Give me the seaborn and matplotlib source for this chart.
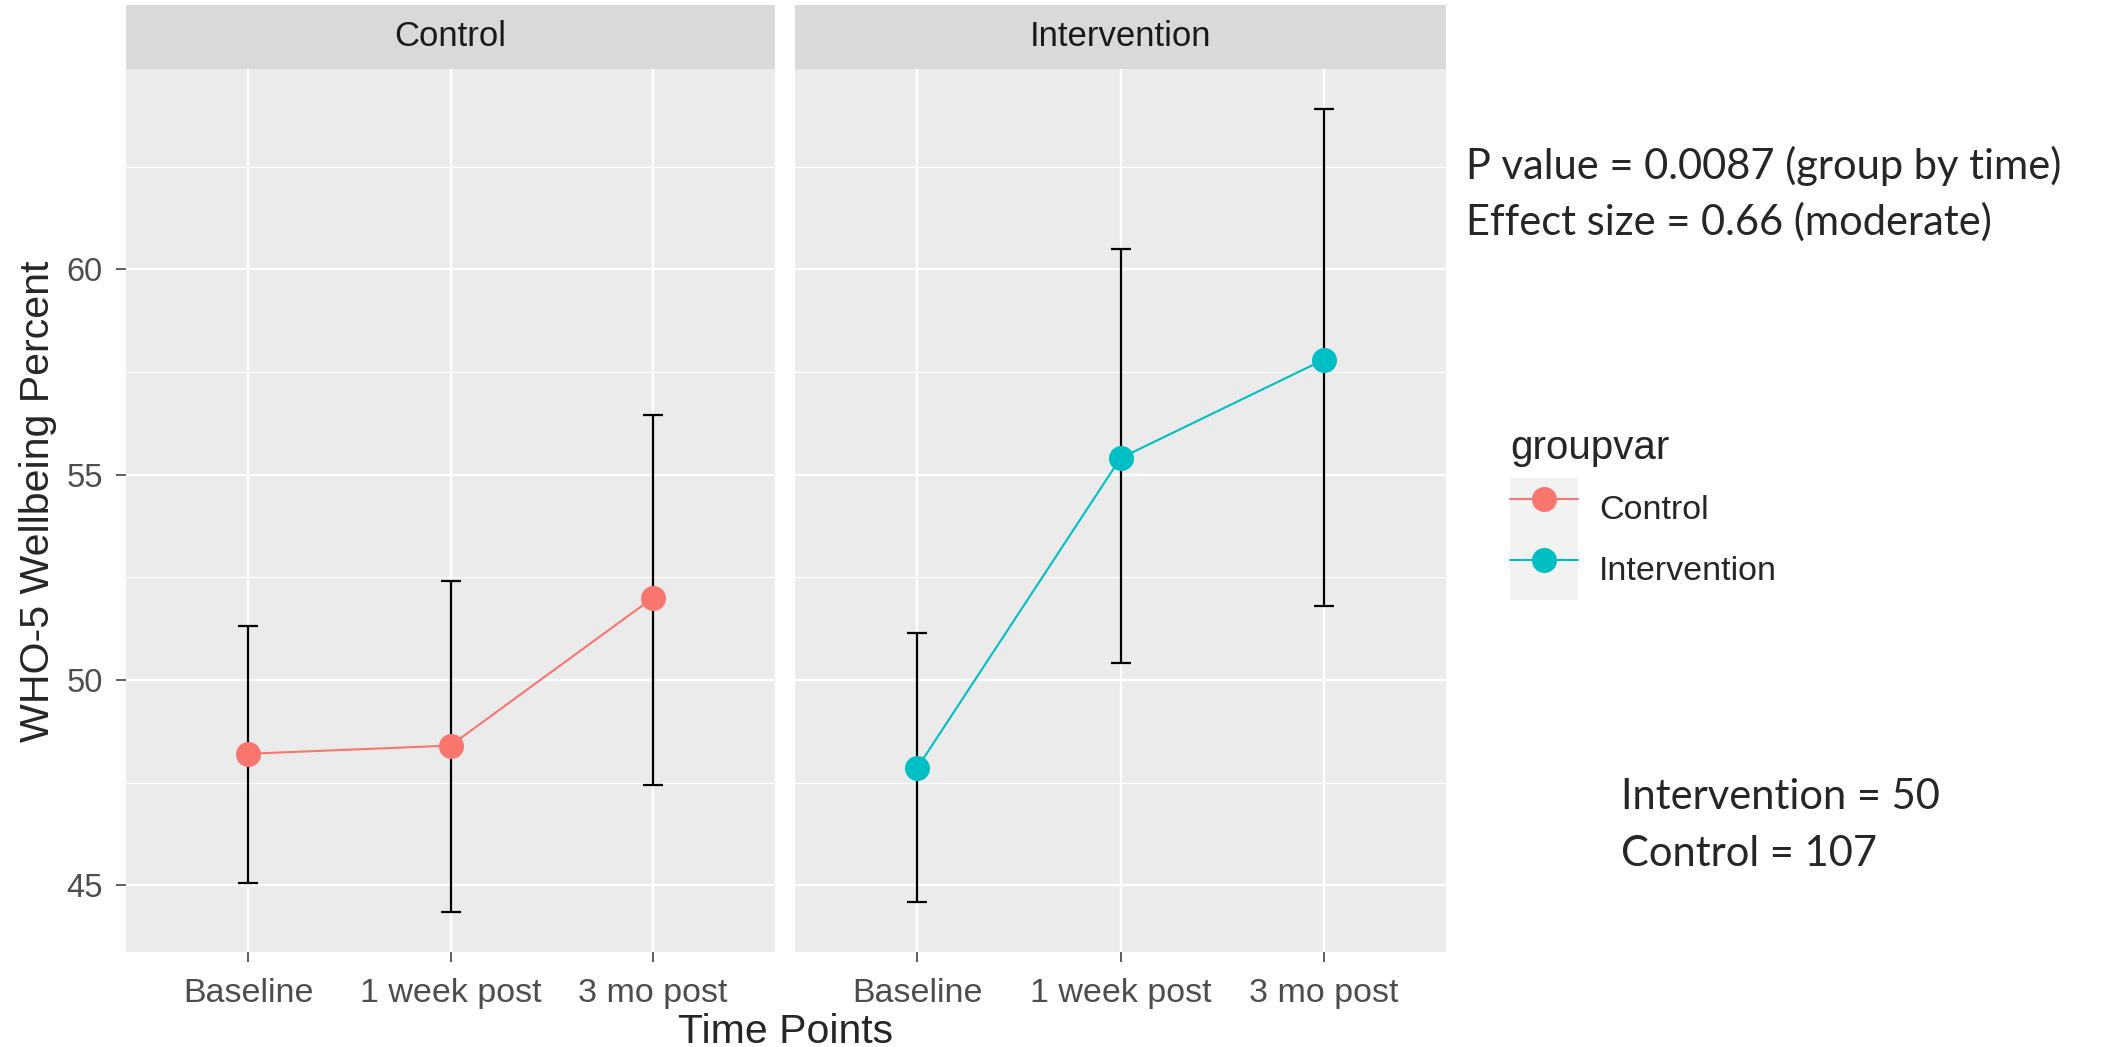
import numpy as np
import pandas as pd
import seaborn as sns
from matplotlib import pyplot as plt
from matplotlib.lines import Line2D
from matplotlib.patches import Rectangle
from matplotlib.legend_handler import HandlerTuple

# Values
time_points = ["Baseline", "1 week post", "3 mo post"]
groups = ["Control", "Intervention"]
control_mean = [48.2, 48.4, 52.0]
control_lo = [45.05, 44.35, 47.45]
control_hi = [51.3, 52.4, 56.45]
interv_mean = [47.85, 55.4, 57.8]
interv_lo = [44.6, 50.4, 51.8]
interv_hi = [51.15, 60.5, 63.9]
colors = {"Control": "#F8766D", "Intervention": "#00BFC4"}
notes_top = ["P value = 0.0087 (group by time)", "Effect size = 0.66 (moderate)"]
notes_bottom = ["Intervention = 50", "Control = 107"]

W, H, DPI = 2123, 1047, 100

df = pd.DataFrame({
    "groupvar": np.repeat(groups, len(time_points)),
    "time": time_points * 2,
    "mean": control_mean + interv_mean,
    "lo": control_lo + interv_lo,
    "hi": control_hi + interv_hi,
})

sns.set_theme(style="darkgrid", rc={"axes.facecolor": "#EBEBEB", "grid.color": "white"})
plt.rcParams["font.family"] = ["Liberation Sans", "DejaVu Sans"]

fig = plt.figure(figsize=(W / DPI, H / DPI), dpi=DPI)
fig.patch.set_facecolor("white")


def box(x0, y0, x1, y1):
    # pixel box (top-left origin) -> figure fraction rect
    return [x0 / W, 1 - y1 / H, (x1 - x0) / W, (y1 - y0) / H]


panel_x = [(126.5, 774.5), (795, 1446)]
top, bottom, strip_top = 69, 952, 5

# ggplot-like 5% expansion of the y range
ymin, ymax = df["lo"].min(), df["hi"].max()
pad = 0.05 * (ymax - ymin)

for i, g in enumerate(groups):
    x0, x1 = panel_x[i]
    ax = fig.add_axes(box(x0, top, x1, bottom))
    ax.set_facecolor("#EBEBEB")
    sub = df[df["groupvar"] == g]

    ax.errorbar(sub["time"], sub["mean"],
                yerr=[sub["mean"] - sub["lo"], sub["hi"] - sub["mean"]],
                fmt="none", ecolor="black", elinewidth=1.6, capsize=7.2, capthick=1.6, zorder=2)
    sns.lineplot(data=sub, x="time", y="mean", color=colors[g], marker="o", markersize=18,
                 markeredgewidth=0, linewidth=1.5, errorbar=None, sort=False, ax=ax, zorder=3)

    ax.set_xlim(-0.6, 2.6)
    ax.set_ylim(ymin - pad, ymax + pad)
    ax.set_yticks([45, 50, 55, 60])
    ax.set_yticks([47.5, 52.5, 57.5, 62.5], minor=True)
    ax.grid(which="major", color="white", linewidth=1.6)
    ax.grid(which="minor", axis="y", color="white", linewidth=0.9)
    ax.set_axisbelow(True)
    for s in ax.spines.values():
        s.set_visible(False)
    ax.set_xlabel("")
    ax.set_ylabel("")
    ax.tick_params(axis="both", which="major", bottom=True, left=True, length=7, width=1.1,
                   color="#333333", labelcolor="#4D4D4D")
    ax.tick_params(axis="x", pad=12, labelsize=24.5)
    ax.tick_params(axis="y", pad=10, labelsize=23.5)
    ax.tick_params(which="minor", length=0)
    if i == 1:
        ax.tick_params(axis="y", left=False, labelleft=False)

    # facet strip
    sax = fig.add_axes(box(x0, strip_top, x1, top))
    sax.set_facecolor("#D9D9D9")
    sax.set_xticks([])
    sax.set_yticks([])
    sax.grid(False)
    for s in sax.spines.values():
        s.set_visible(False)
    sax.text(0.5, 0.5, g, ha="center", va="center", fontsize=25, color="#1A1A1A",
             transform=sax.transAxes)

fig.text(786 / W, 1 - 1043 / H, "Time Points", ha="center", va="baseline", fontsize=29.5)
fig.text(38 / W, 1 - 501 / H, "WHO-5 Wellbeing Percent", ha="center", va="center",
         rotation=90, fontsize=29.6)

# legend with grey key background (ggplot-style keys)
leg_pt = 24.5
fs = leg_pt * DPI / 72
key_h = 61 / fs
hh = (key_h - 0.245) / 0.65
handles = [(Rectangle((0, 0), 1, 1, facecolor="#F2F2F2", edgecolor="none"),
            Line2D([], [], color=colors[g], marker="o", markersize=18, markeredgewidth=0, linewidth=1.5))
           for g in groups]
leg = fig.legend(handles, groups, handler_map={tuple: HandlerTuple(ndivide=1, pad=0)},
                 title="groupvar", title_fontsize=29, fontsize=leg_pt, loc="upper left",
                 bbox_to_anchor=(1510 / W, 1 - 429 / H), frameon=False, borderpad=0,
                 borderaxespad=0, labelspacing=0, handlelength=68 / fs, handleheight=hh,
                 handletextpad=21 / fs, alignment="left")
# small gap between the legend title and the keys
leg._legend_box.sep = 8

for j, t in enumerate(notes_top):
    fig.text(1466 / W, 1 - (179 + 56 * j) / H, t, ha="left", va="baseline", fontsize=30,
             family=["Lato", "DejaVu Sans"])
for j, t in enumerate(notes_bottom):
    fig.text(1621 / W, 1 - (809 + 57 * j) / H, t, ha="left", va="baseline", fontsize=30,
             family=["Lato", "DejaVu Sans"])

fig.savefig("out.png", dpi=DPI)
